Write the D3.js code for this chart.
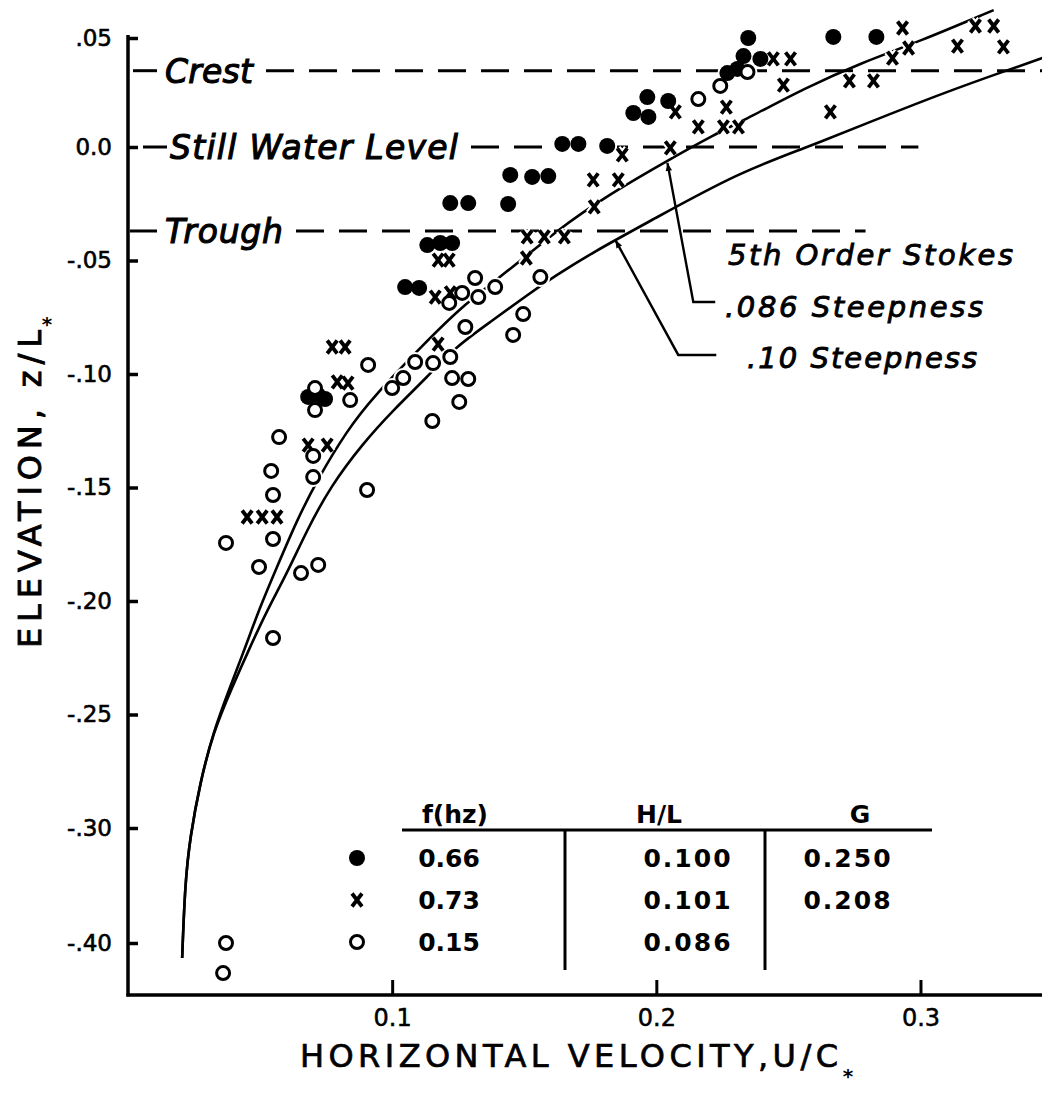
<!DOCTYPE html>
<html>

<head>
    <meta charset="UTF-8">
    <style>
        body { margin: 0; background: #fff; }
        text { font-family: "DejaVu Sans", sans-serif; fill: #000; }
    </style>
</head>

<body>
    <svg id="chart" width="1042" height="1101"></svg>
    <script src="https://d3js.org/d3.v7.min.js"></script>

    <script>

        // ---- data ----
        // f = 0.66 hz (filled circles)
        const filledU = [0.2348, 0.2670, 0.2833, 0.2330, 0.2394, 0.2307, 0.2269, 0.1966, 0.2045, 0.1913, 0.1970,
            0.1644, 0.1705, 0.1814, 0.1447, 0.1530, 0.1591, 0.1220, 0.1288, 0.1439, 0.1133, 0.1182, 0.1227,
            0.1049, 0.1102, 0.0682, 0.0720, 0.0746];
        const filledZ = [0.0500, 0.0505, 0.0505, 0.0417, 0.0404, 0.0358, 0.0339, 0.0229, 0.0211, 0.0156, 0.0138,
            0.0014, 0.0014, 0.0005, -0.0123, -0.0132, -0.0128, -0.0247, -0.0247, -0.0251, -0.0432, -0.0423, -0.0423,
            -0.0617, -0.0621, -0.1101, -0.1093, -0.1110];

        // f = 0.73 hz (crosses)
        const crossU = [0.2932, 0.2955, 0.2894, 0.3140, 0.3208, 0.3277, 0.3314, 0.2443, 0.2508, 0.2481, 0.2731,
            0.2822, 0.2659, 0.2072, 0.2265, 0.2159, 0.2254, 0.2311, 0.1871, 0.2053, 0.1761, 0.1856, 0.1765,
            0.1511, 0.1576, 0.1652, 0.1508, 0.1174, 0.1216, 0.1163, 0.1220, 0.1174, 0.0773, 0.0822, 0.0792,
            0.0833, 0.0682, 0.0754, 0.0451, 0.0508, 0.0564];
        const crossZ = [0.0546, 0.0454, 0.0408, 0.0463, 0.0555, 0.0555, 0.0459, 0.0404, 0.0404, 0.0284, 0.0303,
            0.0303, 0.0161, 0.0161, 0.0183, 0.0092, 0.0092, 0.0092, -0.0035, -0.0004, -0.0145, -0.0145, -0.0264,
            -0.0396, -0.0396, -0.0396, -0.0489, -0.0498, -0.0498, -0.0661, -0.0643, -0.0868, -0.0881, -0.0881, -0.1035,
            -0.1040, -0.1313, -0.1313, -0.1630, -0.1630, -0.1630];

        // f = 0.15 hz (open circles)
        const openU = [0.2345, 0.2242, 0.2159, 0.1561, 0.1496, 0.1458, 0.1390, 0.1314, 0.1326, 0.1265, 0.1216,
            0.1277, 0.1220, 0.1155, 0.1087, 0.1042, 0.1000, 0.1227, 0.1288, 0.1254, 0.1152, 0.0909, 0.0905,
            0.0708, 0.0708, 0.0841, 0.0701, 0.0701, 0.0572, 0.0542, 0.0549, 0.0549, 0.0371, 0.0496, 0.0655,
            0.0720, 0.0549, 0.0371, 0.0360];
        const openZ = [0.0344, 0.0280, 0.0220, -0.0573, -0.0736, -0.0828, -0.0617, -0.0577, -0.0661, -0.0643, -0.0687,
            -0.0793, -0.0925, -0.0952, -0.0947, -0.1018, -0.1062, -0.1018, -0.1022, -0.1123, -0.1207, -0.0960, -0.1511,
            -0.1062, -0.1159, -0.1115, -0.1361, -0.1454, -0.1278, -0.1427, -0.1533, -0.1727, -0.1744, -0.1850, -0.1877,
            -0.1841, -0.2163, -0.4000, -0.4260];

        // 5th order Stokes curves
        const stokes086U = [0.0205, 0.0216, 0.0235, 0.0273, 0.0322, 0.0386, 0.0443, 0.0500, 0.0564, 0.0640, 0.0716,
            0.0830, 0.0928, 0.1117, 0.1269, 0.1458, 0.1625, 0.1799, 0.2027, 0.2216, 0.2356, 0.2564, 0.2773, 0.2992, 0.3277];
        const stokes086Z = [-0.413, -0.348, -0.308, -0.280, -0.258, -0.238, -0.2207, -0.2026, -0.185, -0.1643, -0.1467,
            -0.1247, -0.1101, -0.0872, -0.0696, -0.0529, -0.0366, -0.0225, -0.0070, 0.0055, 0.0138, 0.0271, 0.0385, 0.0482, 0.0628];
        const stokes10U = [0.0205, 0.0216, 0.0235, 0.0273, 0.0322, 0.0394, 0.0462, 0.0527, 0.0602, 0.0678, 0.0765,
            0.0890, 0.1004, 0.1133, 0.1239, 0.1383, 0.1511, 0.1610, 0.1761, 0.1977, 0.2307, 0.2564, 0.2799, 0.3087, 0.3330, 0.3462];
        const stokes10Z = [-0.413, -0.348, -0.308, -0.280, -0.258, -0.238, -0.2203, -0.2040, -0.1877, -0.1687, -0.1498,
            -0.1304, -0.1159, -0.1013, -0.0881, -0.0762, -0.0652, -0.0573, -0.0463, -0.0326, -0.0115, -0.0004, 0.0110, 0.0248, 0.0353, 0.0408];

        // reference levels
        const levelNames = ["Crest", "Still Water Level", "Trough"];
        const levelValues = [0.035, 0.0, -0.037];
        const levelEnds = [0.346, 0.2992, 0.2792];

        // ticks
        const yTickValues = [0.05, 0, -0.05, -0.10, -0.15, -0.20, -0.25, -0.30, -0.40];
        const yTickLabels = [".05", "0.0", "-.05", "-.10", "-.15", "-.20", "-.25", "-.30", "-.40"];
        const xTickValues = [0.1, 0.2, 0.3];

        // table
        const tableHeads = ["f(hz)", "H/L", "G"];
        const tableFreq = ["0.66", "0.73", "0.15"];
        const tableHL = ["0.100", "0.101", "0.086"];
        const tableG = ["0.250", "0.208", ""];

        // leader arrows (tip, corner, end) in data units
        const arrow086 = [[0.2042, -0.0070], [0.2140, -0.0683], [0.2223, -0.0683]];
        const arrow10 = [[0.1845, -0.0410], [0.2083, -0.0916], [0.2227, -0.0916]];

        // ---- drawing ----
        let width = 1042, height = 1101;
        let svg = d3.select("#chart");
        svg.append("rect").attr("width", width).attr("height", height).attr("fill", "#fff");

        let x = d3.scaleLinear().domain([0, 0.346]).range([128, 1042]);
        // axis is broken below -.30 (-.40 sits one step lower)
        let y = d3.scaleLinear().domain([-0.445, -0.40, -0.30, 0, 0.05]).range([995, 943, 828, 147, 38]);

        // axes
        let yAxis = d3.axisLeft(y).tickValues(yTickValues)
            .tickFormat(d => yTickLabels[yTickValues.indexOf(d)])
            .tickSize(-10).tickSizeOuter(0).tickPadding(16);
        let gy = svg.append("g").attr("transform", `translate(${x(0)},0)`).call(yAxis);
        gy.select(".domain").remove();
        gy.selectAll(".tick line").attr("stroke", "#000").attr("stroke-width", 3.5);
        gy.selectAll(".tick text").attr("font-size", 23).attr("fill", "#000")
            .attr("stroke", "#000").attr("stroke-width", 0.6);

        let xAxis = d3.axisBottom(x).tickValues(xTickValues).tickFormat(d3.format(".1f"))
            .tickSize(-15).tickSizeOuter(0).tickPadding(14);
        let gx = svg.append("g").attr("transform", `translate(0,${y(-0.445)})`).call(xAxis);
        gx.select(".domain").remove();
        gx.selectAll(".tick line").attr("stroke", "#000").attr("stroke-width", 3);
        gx.selectAll(".tick text").attr("font-size", 24).attr("fill", "#000")
            .attr("stroke", "#000").attr("stroke-width", 0.5);

        svg.append("line").attr("x1", x(0)).attr("x2", x(0)).attr("y1", y(0.05) - 3).attr("y2", y(-0.445) + 1.5)
            .attr("stroke", "#000").attr("stroke-width", 3.5);
        svg.append("line").attr("x1", x(0) - 1.5).attr("x2", width).attr("y1", y(-0.445)).attr("y2", y(-0.445))
            .attr("stroke", "#000").attr("stroke-width", 3.5);

        // axis titles
        svg.append("text").attr("transform", "translate(41,648) rotate(-90)")
            .attr("font-size", 32).attr("textLength", 318).attr("lengthAdjust", "spacing")
            .attr("stroke", "#000").attr("stroke-width", 0.9)
            .text("ELEVATION, z/L");
        svg.append("text").attr("x", 47).attr("y", 331).attr("font-size", 20).attr("font-weight", "bold")
            .attr("text-anchor", "middle").text("*");

        svg.append("text").attr("x", 300).attr("y", 1067)
            .attr("font-size", 32).attr("textLength", 538).attr("lengthAdjust", "spacing")
            .attr("stroke", "#000").attr("stroke-width", 0.7)
            .text("HORIZONTAL VELOCITY,U/C");
        svg.append("text").attr("x", 848).attr("y", 1083).attr("font-size", 20).attr("font-weight", "bold")
            .attr("text-anchor", "middle").text("*");

        // reference levels: short lead dash, italic label, dashed line
        const leadStart = [5, 15, 2], leadEnd = [29, 39, 29], labelX = [165, 170, 165], labelLen = [88, 288, 118];
        levelNames.forEach((name, i) => {
            let yy = y(levelValues[i]);
            svg.append("line").attr("x1", x(0) + leadStart[i]).attr("x2", x(0) + leadEnd[i])
                .attr("y1", yy).attr("y2", yy).attr("stroke", "#000").attr("stroke-width", 3);
            svg.append("text").attr("x", labelX[i]).attr("y", yy + 12)
                .attr("font-size", 33).attr("font-style", "italic")
                .attr("stroke", "#000").attr("stroke-width", 1.1)
                .attr("textLength", labelLen[i]).attr("lengthAdjust", "spacing")
                .text(name);
            svg.append("line").attr("x1", labelX[i] + labelLen[i] + 13).attr("x2", x(levelEnds[i]))
                .attr("y1", yy).attr("y2", yy).attr("stroke", "#000").attr("stroke-width", 3)
                .attr("stroke-dasharray", "28,15");
        });

        // Stokes curves
        let line = d3.line().x(d => x(d[0])).y(d => y(d[1])).curve(d3.curveBasis);
        [[stokes086U, stokes086Z], [stokes10U, stokes10Z]].forEach(s => {
            svg.append("path").datum(d3.zip(s[0], s[1])).attr("d", line)
                .attr("fill", "none").attr("stroke", "#000").attr("stroke-width", 2.6);
        });

        // markers
        const filled = d3.zip(filledU, filledZ), cross = d3.zip(crossU, crossZ), open = d3.zip(openU, openZ);
        const xPath = "M-5,-6.5L5,6.5M-5,6.5L5,-6.5";

        let halo = svg.append("g");
        halo.selectAll(".hf").data(filled.concat(open)).enter().append("circle")
            .attr("cx", d => x(d[0])).attr("cy", d => y(d[1])).attr("r", 10).attr("fill", "#fff");
        halo.selectAll(".hx").data(cross).enter().append("path")
            .attr("transform", d => `translate(${x(d[0])},${y(d[1])})`).attr("d", xPath)
            .attr("stroke", "#fff").attr("stroke-width", 8);

        svg.append("g").selectAll("circle").data(filled).enter().append("circle")
            .attr("cx", d => x(d[0])).attr("cy", d => y(d[1])).attr("r", 8).attr("fill", "#000");
        svg.append("g").selectAll("path").data(cross).enter().append("path")
            .attr("transform", d => `translate(${x(d[0])},${y(d[1])})`).attr("d", xPath)
            .attr("stroke", "#000").attr("stroke-width", 3.8).attr("fill", "none");
        svg.append("g").selectAll("circle").data(open).enter().append("circle")
            .attr("cx", d => x(d[0])).attr("cy", d => y(d[1])).attr("r", 6.5)
            .attr("fill", "#fff").attr("stroke", "#000").attr("stroke-width", 3);

        // leaders with arrow heads
        svg.append("defs").append("marker").attr("id", "arr")
            .attr("viewBox", "0 0 10 10").attr("refX", 10).attr("refY", 5)
            .attr("markerWidth", 10).attr("markerHeight", 8).attr("markerUnits", "userSpaceOnUse")
            .attr("orient", "auto")
            .append("path").attr("d", "M0,1L10,5L0,9Z").attr("fill", "#000");
        let leader = d3.line().x(d => x(d[0])).y(d => y(d[1]));
        [arrow086, arrow10].forEach(a => {
            svg.append("path").attr("d", leader(a.slice().reverse()))
                .attr("fill", "none").attr("stroke", "#000").attr("stroke-width", 2.4)
                .attr("marker-end", "url(#arr)");
        });

        const noteText = ["5th Order Stokes", ".086 Steepness", ".10 Steepness"];
        const noteX = [728, 725, 747], noteY = [265, 317, 368], noteLen = [285, 258, 230];
        noteText.forEach((t, i) => {
            svg.append("text").attr("x", noteX[i]).attr("y", noteY[i])
                .attr("font-size", 29).attr("font-style", "italic")
                .attr("stroke", "#000").attr("stroke-width", 0.9)
                .attr("textLength", noteLen[i]).attr("lengthAdjust", "spacing").text(t);
        });

        // table legend
        let tbl = svg.append("g").attr("font-size", 25).attr("font-weight", "bold");
        const headX = [455, 659, 860], rowY = [858, 900, 942];
        tableHeads.forEach((h, i) => {
            tbl.append("text").attr("x", headX[i]).attr("y", 823).attr("text-anchor", "middle")
                .attr("font-size", 25).text(h);
        });
        tbl.append("line").attr("x1", 402).attr("x2", 932).attr("y1", 830).attr("y2", 830)
            .attr("stroke", "#000").attr("stroke-width", 3);
        [565, 765].forEach(cx => {
            tbl.append("line").attr("x1", cx).attr("x2", cx).attr("y1", 830).attr("y2", 970)
                .attr("stroke", "#000").attr("stroke-width", 3);
        });
        rowY.forEach((ry, i) => {
            tbl.append("text").attr("x", 449).attr("y", ry + 9).attr("text-anchor", "middle").text(tableFreq[i]);
            tbl.append("text").attr("x", 688).attr("y", ry + 9).attr("text-anchor", "middle")
                .attr("letter-spacing", 2).text(tableHL[i]);
            tbl.append("text").attr("x", 848).attr("y", ry + 9).attr("text-anchor", "middle")
                .attr("letter-spacing", 2).text(tableG[i]);
        });
        tbl.append("circle").attr("cx", 357).attr("cy", rowY[0]).attr("r", 8).attr("fill", "#000");
        tbl.append("path").attr("transform", `translate(357,${rowY[1]})`).attr("d", xPath)
            .attr("stroke", "#000").attr("stroke-width", 3.8);
        tbl.append("circle").attr("cx", 357).attr("cy", rowY[2]).attr("r", 6.5)
            .attr("fill", "#fff").attr("stroke", "#000").attr("stroke-width", 3);

    </script>

</body>

</html>
